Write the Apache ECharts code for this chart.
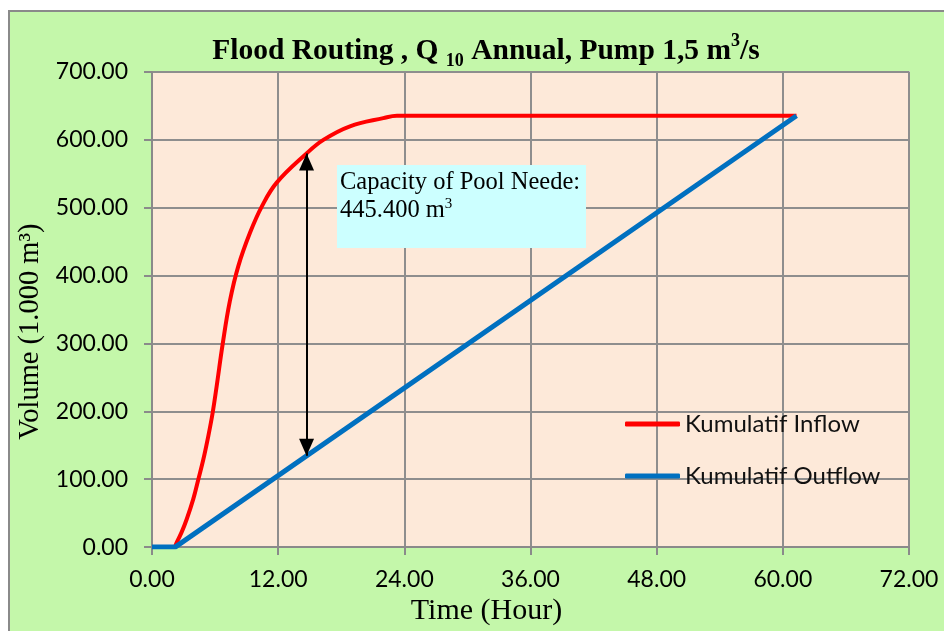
<!DOCTYPE html>
<html>
<head>
<meta charset="utf-8">
<script src="https://cdn.jsdelivr.net/npm/echarts@6/dist/echarts.min.js"></script>
<style>
  html, body { margin: 0; padding: 0; background: #ffffff; }
  #panel {
    position: absolute; left: 8px; top: 10px; width: 936px; height: 621px;
    background: #C4F7AA; border-left: 2px solid #8a8a8a; border-top: 2px solid #8a8a8a;
    box-sizing: border-box;
  }
  #chart { position: absolute; left: 0; top: 0; width: 944px; height: 631px; }
</style>
</head>
<body>
<div id="panel"></div>
<div id="chart"></div>
<script>
// Cumulative inflow hydrograph (hours, thousand m3)
const inflowTime   = [0, 2.05, 2.35, 2.82, 3.3, 3.93, 4.41, 4.88, 5.36, 5.77, 6.15, 6.72, 7.4, 8.21, 9.32, 10.45, 11.86, 14.7, 16.3, 18.83, 22.0, 23.3, 61.3];
const inflowVolume = [0, 0, 7, 22, 41, 71, 100, 129, 164, 198, 237, 299, 362, 414, 463, 502, 537, 580, 600, 620, 632, 635.5, 635.5];

// Cumulative pumped outflow
const outflowTime   = [0, 2.2, 61.3];
const outflowVolume = [0, 0, 635.5];

// Required storage shown by the arrow
const capacity = 445.4;
const arrowTime = 14.7;

const xTicks = [0, 12, 24, 36, 48, 60, 72];
const yTicks = [0, 100, 200, 300, 400, 500, 600, 700];

const SERIF = '"Liberation Serif", "Times New Roman", serif';
const SANS = 'Lato, "Noto Sans", sans-serif';

function interp(xs, ys, x) {
  for (let i = 1; i < xs.length; i++) {
    if (x <= xs[i]) {
      const t = (x - xs[i - 1]) / (xs[i] - xs[i - 1]);
      return ys[i - 1] + t * (ys[i] - ys[i - 1]);
    }
  }
  return ys[ys.length - 1];
}
const arrowBottom = interp(outflowTime, outflowVolume, arrowTime);
const arrowTop = arrowBottom + capacity;

const inflowData = inflowTime.map((t, i) => [t, inflowVolume[i]]);
const outflowData = outflowTime.map((t, i) => [t, outflowVolume[i]]);

const chart = echarts.init(document.getElementById('chart'));
chart.setOption({
  backgroundColor: 'transparent',
  animation: false,
  title: {
    text: '{m|Flood Routing , Q }{sub|10}{m| Annual, Pump 1,5 m}{sup|3}{m|/s}',
    left: 481,
    textAlign: 'center',
    top: 27,
    textStyle: {
      rich: {
        m:   { fontFamily: SERIF, fontWeight: 'bold', fontSize: 29.5, color: '#000', lineHeight: 38 },
        sub: { fontFamily: SERIF, fontWeight: 'bold', fontSize: 18, color: '#000', lineHeight: 18, verticalAlign: 'bottom' },
        sup: { fontFamily: SERIF, fontWeight: 'bold', fontSize: 18, color: '#000', lineHeight: 29, verticalAlign: 'top' }
      }
    }
  },
  grid: {
    left: 152, right: 35, top: 72, bottom: 83,
    show: true, backgroundColor: '#FDE9D9', borderColor: '#C4C4CC', borderWidth: 2
  },
  legend: {
    orient: 'vertical',
    left: 620, top: 406,
    icon: 'roundRect',
    itemWidth: 55, itemHeight: 5, itemGap: 26,
    textStyle: { fontFamily: SANS, fontSize: 24, lineHeight: 26, color: '#111' },
    data: ['Kumulatif Inflow', 'Kumulatif Outflow']
  },
  xAxis: {
    type: 'value', min: xTicks[0], max: xTicks[xTicks.length - 1], interval: 12,
    name: 'Time (Hour)', nameLocation: 'middle', nameGap: 44,
    nameTextStyle: { fontFamily: SERIF, fontSize: 30, color: '#000', padding: [0, 88, 0, 0] },
    axisLine: { show: true, lineStyle: { color: '#8a8a8a', width: 2 } },
    axisTick: { show: true, length: 8, lineStyle: { color: '#8a8a8a', width: 2 } },
    axisLabel: { fontFamily: SANS, fontSize: 23, color: '#000', margin: 21, formatter: v => v.toFixed(2) },
    splitLine: { show: true, lineStyle: { color: '#8e8e8e', width: 2 } }
  },
  yAxis: {
    type: 'value', min: yTicks[0], max: yTicks[yTicks.length - 1], interval: 100,
    name: 'Volume (1.000 m³)', nameLocation: 'middle', nameGap: 104,
    nameTextStyle: { fontFamily: SERIF, fontSize: 28.5, color: '#000', padding: [0, 44, 0, 0] },
    axisLine: { show: true, lineStyle: { color: '#8a8a8a', width: 2 } },
    axisTick: { show: true, length: 8, lineStyle: { color: '#8a8a8a', width: 2 } },
    axisLabel: { fontFamily: SANS, fontSize: 23, color: '#000', margin: 24, formatter: v => v.toFixed(2) },
    splitLine: { show: true, lineStyle: { color: '#8e8e8e', width: 2 } }
  },
  series: [
    {
      name: 'Kumulatif Inflow',
      type: 'line',
      data: inflowData,
      smooth: 0.4,
      symbol: 'none',
      lineStyle: { color: '#FF0000', width: 4 },
      itemStyle: { color: '#FF0000' },
      z: 3
    },
    {
      name: 'Kumulatif Outflow',
      type: 'line',
      data: outflowData,
      symbol: 'none',
      lineStyle: { color: '#0070C0', width: 5 },
      itemStyle: { color: '#0070C0' },
      z: 4,
      markLine: {
        silent: true,
        symbol: ['triangle', 'triangle'],
        symbolSize: [15, 17],
        symbolOffset: [[0, 8.5], [0, 8.5]],
        label: { show: false },
        lineStyle: { color: '#000', width: 2, type: 'solid' },
        data: [[{ coord: [arrowTime, arrowBottom] }, { coord: [arrowTime, arrowTop] }]]
      }
    }
  ],
  graphic: [
    {
      type: 'group',
      left: 337, top: 165,
      z: 100,
      children: [
        { type: 'rect', z: 100, shape: { x: 0, y: 0, width: 249, height: 83 }, style: { fill: '#CCFFFF' } },
        {
          type: 'text', z: 101, x: 3, y: 4,
          style: {
            text: '{t|Capacity of Pool Neede:}\n{t|445.400 m}{s|3}',
            rich: {
              t: { fontFamily: SERIF, fontSize: 24.5, fill: '#000', lineHeight: 28 },
              s: { fontFamily: SERIF, fontSize: 15, fill: '#000', lineHeight: 15, verticalAlign: 'top' }
            }
          }
        }
      ]
    }
  ]
});
</script>
</body>
</html>
